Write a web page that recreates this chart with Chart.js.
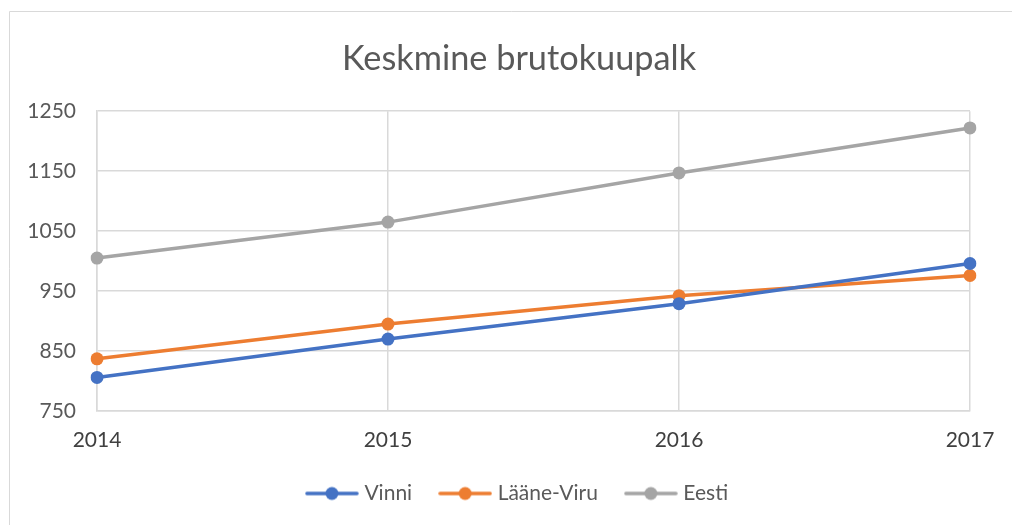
<!DOCTYPE html>
<html>
<head>
<meta charset="utf-8">
<script src="https://cdn.jsdelivr.net/npm/chart.js@4.4.0/dist/chart.umd.min.js"></script>
<style>
html,body{margin:0;padding:0;background:#fff;}
#c{display:block;}
</style>
</head>
<body>
<canvas id="c" width="1012" height="525"></canvas>
<script>
const chartTitle = "Keskmine brutokuupalk";
const categories = ["2014", "2015", "2016", "2017"];
const seriesNames = ["Vinni", "Lääne-Viru", "Eesti"];
const vinni = [806, 870, 929, 996];
const laaneViru = [837, 895, 942, 976];
const eesti = [1005, 1065, 1147, 1222];
const yTicks = [750, 850, 950, 1050, 1150, 1250];
const colors = ["#4472C4", "#ED7D31", "#A5A5A5"];

function legendIcon(color) {
  const cv = document.createElement('canvas');
  cv.width = 54; cv.height = 16;
  const g = cv.getContext('2d');
  g.strokeStyle = color; g.lineWidth = 3.5; g.lineCap = 'round';
  g.beginPath(); g.moveTo(2, 8); g.lineTo(52, 8); g.stroke();
  g.fillStyle = color;
  g.beginPath(); g.arc(27, 8, 6.5, 0, Math.PI * 2); g.fill();
  return cv;
}
const icons = colors.map(legendIcon);

const framePlugin = {
  id: 'frame',
  beforeDraw(chart) {
    const ctx = chart.ctx;
    ctx.save();
    ctx.strokeStyle = '#d9d9d9';
    ctx.lineWidth = 1;
    ctx.beginPath();
    ctx.moveTo(9.5, 600); ctx.lineTo(9.5, 11.5); ctx.lineTo(1100, 11.5);
    ctx.stroke();
    ctx.restore();
  }
};

const series = [vinni, laaneViru, eesti];
new Chart(document.getElementById('c'), {
  type: 'line',
  data: {
    labels: categories,
    datasets: series.map((d, i) => ({
      label: seriesNames[i],
      data: d,
      borderColor: colors[i],
      backgroundColor: colors[i],
      borderWidth: 3.5,
      pointRadius: 6.5,
      pointHoverRadius: 6.5,
      pointBorderWidth: 0,
      pointStyle: 'circle',
      tension: 0,
      fill: false
    }))
  },
  options: {
    responsive: false,
    animation: false,
    devicePixelRatio: 1,
    layout: { padding: { left: 26, right: 0, top: 0, bottom: 11 } },
    plugins: {
      title: {
        display: true,
        text: chartTitle,
        color: '#595959',
        font: { family: 'Lato', size: 34.3, weight: 'normal' },
        padding: { top: 38, bottom: 32 }
      },
      legend: {
        position: 'bottom',
        labels: {
          usePointStyle: true,
          pointStyleWidth: 44,
          color: '#595959',
          font: { family: 'Lato', size: 21 },
          padding: 31,
          generateLabels(chart) {
            return chart.data.datasets.map((ds, i) => ({
              text: ds.label,
              fillStyle: colors[i],
              strokeStyle: colors[i],
              lineWidth: 0,
              pointStyle: icons[i],
              hidden: false,
              datasetIndex: i,
              fontColor: '#595959'
            }));
          }
        }
      },
      tooltip: { enabled: false }
    },
    scales: {
      x: {
        offset: false,
        grid: { color: '#d9d9d9', lineWidth: 1.5, drawTicks: false },
        border: { color: '#d9d9d9', width: 1.5 },
        ticks: { color: '#404040', font: { family: 'Lato', size: 21 }, padding: 17, maxRotation: 0 },
        afterFit(scale) { scale.height = 41; }
      },
      y: {
        min: 750, max: 1250,
        afterBuildTicks(scale) { scale.ticks = yTicks.map(v => ({ value: v })); },
        grid: { color: '#d9d9d9', lineWidth: 1.5, drawTicks: false },
        border: { color: '#d9d9d9', width: 1.5 },
        ticks: { color: '#595959', font: { family: 'Lato', size: 21 }, padding: 21, callback: v => String(v) },
        afterFit(scale) { scale.width = 71; }
      },
      yRight: {
        position: 'right',
        display: true,
        grid: { display: false, drawTicks: false },
        border: { display: false },
        ticks: { display: false },
        afterFit(scale) { scale.width = 42; }
      }
    }
  },
  plugins: [framePlugin]
});
</script>
</body>
</html>
